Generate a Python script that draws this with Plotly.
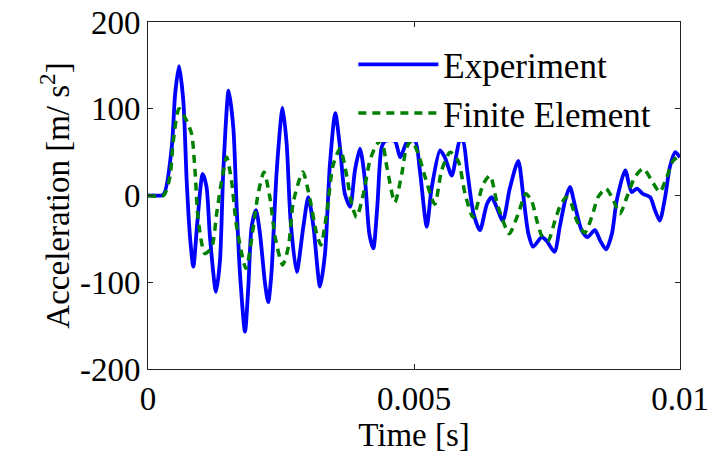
import plotly.graph_objects as go

# Time in milliseconds -> converted to seconds
exp_t_ms = [0, 0.10, 0.29, 0.445, 0.51, 0.583, 0.664, 0.727, 0.79, 0.852, 0.927, 1.028, 1.10, 1.165,
            1.278, 1.353, 1.416, 1.516, 1.604, 1.667, 1.729, 1.823, 1.886, 1.948, 2.03, 2.105, 2.199,
            2.26, 2.32, 2.42, 2.53, 2.607, 2.68, 2.795, 2.92, 3.013, 3.11, 3.233, 3.327, 3.42, 3.52,
            3.61, 3.70, 3.80, 3.89, 3.985, 4.08, 4.16, 4.235, 4.31, 4.39, 4.46, 4.64, 4.74, 4.88,
            5.02, 5.11, 5.24, 5.33, 5.49, 5.58, 5.71, 5.80, 5.86, 5.92, 6.0, 6.12, 6.24, 6.37, 6.46,
            6.55, 6.67, 6.80, 6.96, 7.05, 7.15, 7.24, 7.40, 7.49, 7.64, 7.74, 7.84, 7.93, 8.03, 8.15,
            8.26, 8.40, 8.50, 8.61, 8.72, 8.81, 8.97, 9.09, 9.19, 9.30, 9.44, 9.53, 9.62, 9.72, 9.81,
            9.91, 10.0]
exp_acc = [0, 0, 1, 55, 117, 149, 109, 17, -48, -82, -31, 25, 10, -48,
           -111, -75, 29, 121, 78, -14, -90, -157, -105, -36, -17, -44, -101,
           -123, -90, 29, 101, 59, -29, -88, -36, -2, -36, -105, -67, 36, 95,
           55, 2, -13, 29, 54, 17, -44, -61, -13, 55, 63, 63, 44, 63,
           63, 29, -36, 8, 52, 44, 23, 48, 63, 63, 29, -21, -40, -10, -2,
           -13, -29, 8, 40, 2, -44, -59, -48, -52, -65, -36, -6, 10, -13, -40,
           -48, -40, -52, -62, -44, -6, 29, 4, 8, 2, -2, -17, -29, -2, 33,
           50, 44]

fe_t_ms = [0, 0.29, 0.41, 0.476, 0.583, 0.727, 0.82, 0.883, 0.946, 1.07, 1.20, 1.29, 1.385, 1.479,
           1.57, 1.667, 1.842, 1.98, 2.07, 2.18, 2.29, 2.39, 2.53, 2.64, 2.73, 2.91, 3.05, 3.17,
           3.25, 3.36, 3.48, 3.61, 3.74, 3.83, 3.92, 4.05, 4.17, 4.30, 4.39, 4.49, 4.64, 4.77,
           4.86, 4.96, 5.08, 5.21, 5.39, 5.52, 5.68, 5.83, 5.96, 6.11, 6.30, 6.43, 6.55, 6.62,
           6.79, 6.96, 7.10, 7.21, 7.31, 7.40, 7.52, 7.65, 7.74, 7.86, 7.96, 8.06, 8.21, 8.34,
           8.46, 8.61, 8.75, 8.87, 9.0, 9.15, 9.31, 9.47, 9.62, 9.75, 9.87, 10.0]
fe_acc = [0, 0, 21, 63, 100, 86, 71, 29, -29, -67, -59, -21, 17, 44,
          17, -36, -84, -36, 2, 27, -2, -48, -80, -59, -8, 27, -6, -44,
          -57, -20, 35, 54, 21, -10, -25, 2, 40, 59, 63, 33, -8, 25,
          55, 63, 48, 21, -10, 29, 50, 40, 2, -25, 13, 23, -6, -20,
          -44, -21, 2, -6, -29, -46, -52, -29, -13, -2, -10, -29, -43, -25,
          -2, 8, -6, -21, -2, 21, 31, 17, 4, 21, 40, 46]

x_ticks = [0, 0.005, 0.01]
x_tick_labels = ["0", "0.005", "0.01"]
y_ticks = [-200, -100, 0, 100, 200]
y_tick_labels = ["-200", "-100", "0", "100", "200"]

exp_t = [v * 1e-3 for v in exp_t_ms]
fe_t = [v * 1e-3 for v in fe_t_ms]

FONT = "Liberation Serif, Times New Roman, serif"

fig = go.Figure()
fig.add_trace(go.Scatter(x=exp_t, y=exp_acc, mode="lines", name="Experiment",
                         line=dict(color="#0000FF", width=3.8, shape="spline", smoothing=0.7)))
fig.add_trace(go.Scatter(x=fe_t, y=fe_acc, mode="lines", name="Finite Element",
                         line=dict(color="#008000", width=3.5, dash="8px,6px", shape="spline", smoothing=0.7)))

axis_common = dict(showline=True, linecolor="#222222", linewidth=1, mirror="allticks",
                   ticks="inside", ticklen=5, tickcolor="#222222", showgrid=False, zeroline=False,
                   automargin=False,
                   tickfont=dict(family=FONT, size=33, color="black"))

fig.update_layout(
    width=713, height=464,
    margin=dict(l=148, r=33, t=22, b=95, autoexpand=False),
    paper_bgcolor="white", plot_bgcolor="white",
    font=dict(family=FONT, size=33, color="black"),
    xaxis=dict(range=[0, 0.01], tickvals=x_ticks, ticktext=x_tick_labels,
               title=dict(text="Time [s]", font=dict(family=FONT, size=33), standoff=4),
               **axis_common),
    yaxis=dict(range=[-200, 200], tickvals=y_ticks, ticktext=y_tick_labels,
               title=dict(text="Acceleration [m/ s<sup>2</sup>]", font=dict(family=FONT, size=33), standoff=0),
               **axis_common),
    legend=dict(x=0.386, y=0.962, xanchor="left", yanchor="top", bgcolor="white",
                borderwidth=0, font=dict(family=FONT, size=35), itemwidth=80,
                tracegroupgap=0),
    showlegend=True,
)

fig.write_html("out.html")
